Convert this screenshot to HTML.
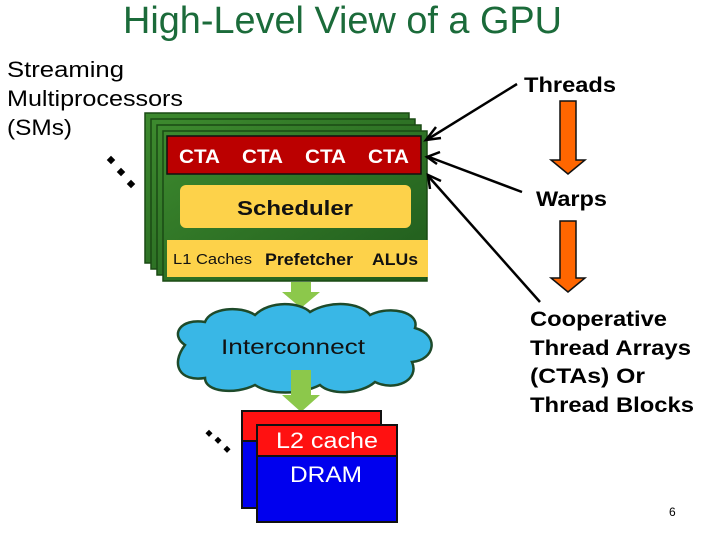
<!DOCTYPE html>
<html><head><style>
html,body{margin:0;padding:0;background:#fff;}
svg{display:block;}
text{font-family:"Liberation Sans",Arial,sans-serif;}
</style></head><body>
<svg width="720" height="540" viewBox="0 0 720 540" xmlns="http://www.w3.org/2000/svg">
<text x="123" y="33" font-size="38" fill="#1b6b3a" textLength="439" lengthAdjust="spacingAndGlyphs">High-Level View of a GPU</text>
<text x="7" y="77" font-size="22" fill="#000" textLength="117" lengthAdjust="spacingAndGlyphs">Streaming</text>
<text x="7" y="106" font-size="22" fill="#000" textLength="176" lengthAdjust="spacingAndGlyphs">Multiprocessors</text>
<text x="7" y="135" font-size="22" fill="#000" textLength="65" lengthAdjust="spacingAndGlyphs">(SMs)</text>
<g fill="#000">
<rect x="108" y="157" width="6" height="6" transform="rotate(45 111 160)"/>
<rect x="118" y="169" width="6" height="6" transform="rotate(45 121 172)"/>
<rect x="128" y="181" width="6" height="6" transform="rotate(45 131 184)"/>
<rect x="206" y="431" width="5" height="5" transform="rotate(45 209 434)"/>
<rect x="215" y="438" width="5" height="5" transform="rotate(45 218 441)"/>
<rect x="224" y="447" width="5" height="5" transform="rotate(45 227 450)"/>
</g>
<defs><linearGradient id="g" x1="0" y1="0" x2="1" y2="1"><stop offset="0" stop-color="#3d8a2e"/><stop offset="1" stop-color="#1f5a1c"/></linearGradient></defs>
<rect x="145" y="113" width="264" height="150" fill="url(#g)" stroke="#1a4a14" stroke-width="1.5"/>
<rect x="151" y="119" width="264" height="150" fill="url(#g)" stroke="#1a4a14" stroke-width="1.5"/>
<rect x="157" y="125" width="264" height="150" fill="url(#g)" stroke="#1a4a14" stroke-width="1.5"/>
<rect x="163" y="131" width="264" height="150" fill="url(#g)" stroke="#1a4a14" stroke-width="1.5"/>
<rect x="167" y="136" width="254" height="38" fill="#bb0000" stroke="#111" stroke-width="1.5"/>
<g font-size="19" font-weight="bold" fill="#fff">
<text x="179" y="163" textLength="41" lengthAdjust="spacingAndGlyphs">CTA</text><text x="242" y="163" textLength="41" lengthAdjust="spacingAndGlyphs">CTA</text><text x="305" y="163" textLength="41" lengthAdjust="spacingAndGlyphs">CTA</text><text x="368" y="163" textLength="41" lengthAdjust="spacingAndGlyphs">CTA</text>
</g>
<rect x="180" y="185" width="231" height="43" rx="6" fill="#fdd24a"/>
<text x="237" y="215" font-size="20" font-weight="bold" fill="#111" textLength="116" lengthAdjust="spacingAndGlyphs">Scheduler</text>
<rect x="167" y="240" width="261" height="37" fill="#fdd24a"/>
<text x="173" y="264" font-size="15" fill="#111" textLength="79" lengthAdjust="spacingAndGlyphs">L1 Caches</text>
<text x="265" y="265" font-size="17" font-weight="bold" fill="#111" textLength="88" lengthAdjust="spacingAndGlyphs">Prefetcher</text>
<text x="372" y="265" font-size="17" font-weight="bold" fill="#111" textLength="46" lengthAdjust="spacingAndGlyphs">ALUs</text>
<polygon points="291,282 311,282 311,292 320,292 301,308 282,292 291,292" fill="#8cc84b"/>
<path d="M185,345 C170,335 180,318 205,322 C210,308 240,305 255,315 C270,300 300,302 310,312 C330,300 360,302 370,315 C390,305 420,312 415,328 C440,335 435,360 412,362 C420,380 395,392 375,382 C360,395 330,395 320,385 C300,395 270,395 255,385 C235,395 205,392 205,378 C180,382 170,365 185,345 Z" fill="#39b7e6" stroke="#1e4a2a" stroke-width="2.5"/>
<text x="221" y="354" font-size="21" fill="#111" textLength="144" lengthAdjust="spacingAndGlyphs">Interconnect</text>
<polygon points="291,370 311,370 311,395 320,395 301,412 282,395 291,395" fill="#8cc84b"/>
<rect x="242" y="411" width="139" height="97" fill="#0000ee" stroke="#111" stroke-width="2"/>
<rect x="242" y="411" width="139" height="30" fill="#ff1111" stroke="#111" stroke-width="2"/>
<rect x="257" y="425" width="140" height="97" fill="#0000ee" stroke="#111" stroke-width="2"/>
<rect x="257" y="425" width="140" height="31" fill="#ff1111" stroke="#111" stroke-width="2"/>
<text x="276" y="448" font-size="22" fill="#fff" textLength="102" lengthAdjust="spacingAndGlyphs">L2 cache</text>
<text x="290" y="482" font-size="22" fill="#fff" textLength="72" lengthAdjust="spacingAndGlyphs">DRAM</text>
<text x="524" y="92" font-size="21" font-weight="bold" fill="#000" textLength="92" lengthAdjust="spacingAndGlyphs">Threads</text>
<text x="536" y="206" font-size="21" font-weight="bold" fill="#000" textLength="71" lengthAdjust="spacingAndGlyphs">Warps</text>
<polygon points="560,101 576,101 576,160 585,160 568,174 551,160 560,160" fill="#ff6600" stroke="#111" stroke-width="1.5"/>
<polygon points="560,221 576,221 576,278 585,278 568,292 551,278 560,278" fill="#ff6600" stroke="#111" stroke-width="1.5"/>
<g stroke="#000" stroke-width="2.5" fill="none">
<line x1="517" y1="84" x2="428" y2="139"/>
<polyline points="436,127 426,140 441,138"/>
<line x1="522" y1="192" x2="429" y2="157"/>
<polyline points="440,152 427,157 437,164"/>
<line x1="540" y1="302" x2="429" y2="177"/>
<polyline points="430,189 428,175 441,181"/>
</g>
<g font-size="21" font-weight="bold" fill="#000">
<text x="530" y="326" textLength="137" lengthAdjust="spacingAndGlyphs">Cooperative</text>
<text x="530" y="355" textLength="161" lengthAdjust="spacingAndGlyphs">Thread Arrays</text>
<text x="530" y="383" textLength="115" lengthAdjust="spacingAndGlyphs">(CTAs) Or</text>
<text x="530" y="412" textLength="164" lengthAdjust="spacingAndGlyphs">Thread Blocks</text>
</g>
<text x="669" y="516" font-size="12" font-family="Liberation Serif" fill="#000">6</text>
</svg>
</body></html>
